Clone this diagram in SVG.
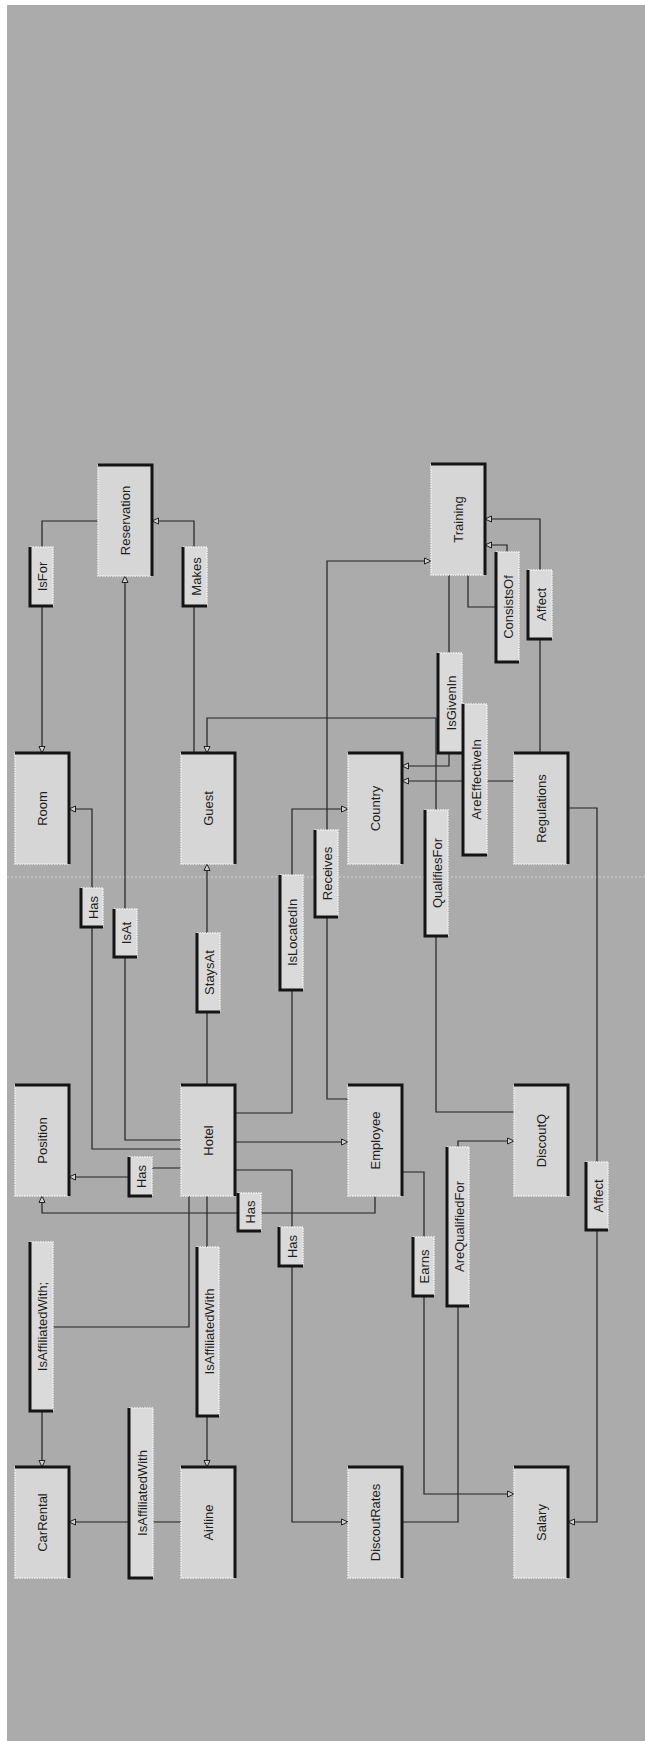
<svg xmlns="http://www.w3.org/2000/svg" width="645" height="1741" viewBox="0 0 645 1741">
<defs>
<style>
.bg{fill:#ababab}
.box{fill:#d6d6d6}
.lbl{fill:#dadada}
.edge{stroke:#141414;stroke-width:3;fill:none}
.hl{stroke:#f2f2f2;stroke-width:1.5;stroke-dasharray:1.5 1;fill:none}
.t{font-family:"Liberation Sans",Arial,sans-serif;font-size:13px;fill:#1e1e1e;text-anchor:middle;dominant-baseline:central}
.c{stroke:#222222;stroke-width:1.2;fill:none;marker-end:url(#ar)}
.fold{stroke:#c6c6c6;stroke-width:1.5;stroke-dasharray:2 2}
</style>
<marker id="ar" markerWidth="8" markerHeight="8" refX="7" refY="4" orient="auto" markerUnits="userSpaceOnUse">
<path d="M0.5,1 L7,4 L0.5,7 Z" fill="#cfcfcf" stroke="#222" stroke-width="1"/>
</marker>
</defs>
<rect x="0" y="0" width="645" height="1741" fill="#ffffff"/>
<rect class="bg" x="7" y="5" width="638" height="1736"/>
<line class="fold" x1="7" y1="877" x2="645" y2="877"/>

<g id="connectors">
<path class="c" d="M98,521 H42 V753"/>
<path class="c" d="M194,753 V521 H152"/>
<path class="c" d="M181,1140 H125 V576"/>
<path class="c" d="M181,1149 H92 V809 H69"/>
<path class="c" d="M207,1085 V864"/>
<path class="c" d="M514,1112 H436 V718 H207 V753"/>
<path class="c" d="M449,575 V766 H402"/>
<path class="c" d="M514,781 H402"/>
<path class="c" d="M348,1099 H327 V561 H431"/>
<path class="c" d="M235,1113 H292 V809 H348"/>
<path class="c" d="M468,575 V607 H507 V545 H485"/>
<path class="c" d="M540,753 V519 H485"/>
<path class="c" d="M568,808 H597 V1522 H568"/>
<path class="c" d="M235,1142 H348"/>
<path class="c" d="M181,1168 H140 V1177 H69"/>
<path class="c" d="M375,1196 V1213 H42 V1196"/>
<path class="c" d="M235,1170 H292 V1522 H348"/>
<path class="c" d="M402,1172 H424 V1494 H514"/>
<path class="c" d="M402,1522 H458 V1141 H514"/>
<path class="c" d="M189,1196 V1327 H42 V1467"/>
<path class="c" d="M207,1196 V1467"/>
<path class="c" d="M181,1522 H69"/>
</g>

<g id="labels">
<g id="l-isfor"><rect class="lbl" x="30" y="547" width="23" height="59"/><path class="hl" d="M30,547 H53 V606"/><path class="edge" d="M30,547 V606 H53"/><text class="t" transform="translate(42,576.5) rotate(-90)">IsFor</text></g>
<g id="l-makes"><rect class="lbl" x="183" y="547" width="24" height="59"/><path class="hl" d="M183,547 H207 V606"/><path class="edge" d="M183,547 V606 H207"/><text class="t" transform="translate(196,576.5) rotate(-90)">Makes</text></g>
<g id="l-consistsof"><rect class="lbl" x="496" y="552" width="23" height="110"/><path class="hl" d="M496,552 H519 V662"/><path class="edge" d="M496,552 V662 H519"/><text class="t" transform="translate(508,607) rotate(-90)">ConsistsOf</text></g>
<g id="l-affect1"><rect class="lbl" x="528" y="570" width="24" height="69"/><path class="hl" d="M528,570 H552 V639"/><path class="edge" d="M528,570 V639 H552"/><text class="t" transform="translate(541,604.5) rotate(-90)">Affect</text></g>
<g id="l-isgivenin"><rect class="lbl" x="438" y="653" width="24" height="100"/><path class="hl" d="M438,653 H462 V753"/><path class="edge" d="M438,653 V753 H462"/><text class="t" transform="translate(451,703) rotate(-90)">IsGivenIn</text></g>
<g id="l-areeffectivein"><rect class="lbl" x="463" y="704" width="24" height="151"/><path class="hl" d="M463,704 H487 V855"/><path class="edge" d="M463,704 V855 H487"/><text class="t" transform="translate(476,779.5) rotate(-90)">AreEffectiveIn</text></g>
<g id="l-qualifiesfor"><rect class="lbl" x="425" y="810" width="23" height="126"/><path class="hl" d="M425,810 H448 V936"/><path class="edge" d="M425,810 V936 H448"/><text class="t" transform="translate(437,873) rotate(-90)">QualifiesFor</text></g>
<g id="l-receives"><rect class="lbl" x="315" y="830" width="23" height="87"/><path class="hl" d="M315,830 H338 V917"/><path class="edge" d="M315,830 V917 H338"/><text class="t" transform="translate(327,873.5) rotate(-90)">Receives</text></g>
<g id="l-has1"><rect class="lbl" x="81" y="888" width="22" height="39"/><path class="hl" d="M81,888 H103 V927"/><path class="edge" d="M81,888 V927 H103"/><text class="t" transform="translate(93,907.5) rotate(-90)">Has</text></g>
<g id="l-isat"><rect class="lbl" x="114" y="909" width="23" height="48"/><path class="hl" d="M114,909 H137 V957"/><path class="edge" d="M114,909 V957 H137"/><text class="t" transform="translate(126,933) rotate(-90)">IsAt</text></g>
<g id="l-staysat"><rect class="lbl" x="197" y="933" width="23" height="79"/><path class="hl" d="M197,933 H220 V1012"/><path class="edge" d="M197,933 V1012 H220"/><text class="t" transform="translate(209,972.5) rotate(-90)">StaysAt</text></g>
<g id="l-islocatedin"><rect class="lbl" x="280" y="875" width="23" height="115"/><path class="hl" d="M280,875 H303 V990"/><path class="edge" d="M280,875 V990 H303"/><text class="t" transform="translate(292,932.5) rotate(-90)">IsLocatedIn</text></g>
<g id="l-has2"><rect class="lbl" x="129" y="1157" width="23" height="39"/><path class="hl" d="M129,1157 H152 V1196"/><path class="edge" d="M129,1157 V1196 H152"/><text class="t" transform="translate(141,1176.5) rotate(-90)">Has</text></g>
<g id="l-has3"><rect class="lbl" x="238" y="1193" width="23" height="38"/><path class="hl" d="M238,1193 H261 V1231"/><path class="edge" d="M238,1193 V1231 H261"/><text class="t" transform="translate(250,1212) rotate(-90)">Has</text></g>
<g id="l-has4"><rect class="lbl" x="279" y="1227" width="24" height="39"/><path class="hl" d="M279,1227 H303 V1266"/><path class="edge" d="M279,1227 V1266 H303"/><text class="t" transform="translate(292,1246.5) rotate(-90)">Has</text></g>
<g id="l-earns"><rect class="lbl" x="413" y="1237" width="21" height="59"/><path class="hl" d="M413,1237 H434 V1296"/><path class="edge" d="M413,1237 V1296 H434"/><text class="t" transform="translate(424,1266.5) rotate(-90)">Earns</text></g>
<g id="l-arequalifiedfor"><rect class="lbl" x="447" y="1147" width="22" height="159"/><path class="hl" d="M447,1147 H469 V1306"/><path class="edge" d="M447,1147 V1306 H469"/><text class="t" transform="translate(459,1226.5) rotate(-90)">AreQualifiedFor</text></g>
<g id="l-affect2"><rect class="lbl" x="586" y="1162" width="22" height="68"/><path class="hl" d="M586,1162 H608 V1230"/><path class="edge" d="M586,1162 V1230 H608"/><text class="t" transform="translate(598,1196) rotate(-90)">Affect</text></g>
<g id="l-isaffiliatedwith1"><rect class="lbl" x="30" y="1242" width="23" height="169"/><path class="hl" d="M30,1242 H53 V1411"/><path class="edge" d="M30,1242 V1411 H53"/><text class="t" transform="translate(42,1326.5) rotate(-90)">IsAffiliatedWith;</text></g>
<g id="l-isaffiliatedwith2"><rect class="lbl" x="197" y="1247" width="22" height="169"/><path class="hl" d="M197,1247 H219 V1416"/><path class="edge" d="M197,1247 V1416 H219"/><text class="t" transform="translate(209,1331.5) rotate(-90)">IsAffiliatedWith</text></g>
<g id="l-isaffiliatedwith3"><rect class="lbl" x="129" y="1408" width="24" height="170"/><path class="hl" d="M129,1408 H153 V1578"/><path class="edge" d="M129,1408 V1578 H153"/><text class="t" transform="translate(142,1493) rotate(-90)">IsAffiliatedWith</text></g>
</g>

<g id="nodes">
<g id="n-reservation"><rect class="box" x="98" y="465" width="54" height="111"/><path class="hl" d="M98,465 V576 H152"/><path class="edge" d="M98,465 H152 V576"/><text class="t" transform="translate(125,520.5) rotate(-90)">Reservation</text></g>
<g id="n-training"><rect class="box" x="431" y="464" width="54" height="111"/><path class="hl" d="M431,464 V575 H485"/><path class="edge" d="M431,464 H485 V575"/><text class="t" transform="translate(458,519.5) rotate(-90)">Training</text></g>
<g id="n-room"><rect class="box" x="15" y="753" width="54" height="111"/><path class="hl" d="M15,753 V864 H69"/><path class="edge" d="M15,753 H69 V864"/><text class="t" transform="translate(42,808.5) rotate(-90)">Room</text></g>
<g id="n-guest"><rect class="box" x="181" y="753" width="54" height="111"/><path class="hl" d="M181,753 V864 H235"/><path class="edge" d="M181,753 H235 V864"/><text class="t" transform="translate(208,808.5) rotate(-90)">Guest</text></g>
<g id="n-country"><rect class="box" x="348" y="753" width="54" height="111"/><path class="hl" d="M348,753 V864 H402"/><path class="edge" d="M348,753 H402 V864"/><text class="t" transform="translate(375,808.5) rotate(-90)">Country</text></g>
<g id="n-regulations"><rect class="box" x="514" y="753" width="54" height="111"/><path class="hl" d="M514,753 V864 H568"/><path class="edge" d="M514,753 H568 V864"/><text class="t" transform="translate(541,808.5) rotate(-90)">Regulations</text></g>
<g id="n-position"><rect class="box" x="15" y="1085" width="54" height="111"/><path class="hl" d="M15,1085 V1196 H69"/><path class="edge" d="M15,1085 H69 V1196"/><text class="t" transform="translate(42,1140.5) rotate(-90)">Position</text></g>
<g id="n-hotel"><rect class="box" x="181" y="1085" width="54" height="111"/><path class="hl" d="M181,1085 V1196 H235"/><path class="edge" d="M181,1085 H235 V1196"/><text class="t" transform="translate(208,1140.5) rotate(-90)">Hotel</text></g>
<g id="n-employee"><rect class="box" x="348" y="1085" width="54" height="111"/><path class="hl" d="M348,1085 V1196 H402"/><path class="edge" d="M348,1085 H402 V1196"/><text class="t" transform="translate(375,1140.5) rotate(-90)">Employee</text></g>
<g id="n-discoutq"><rect class="box" x="514" y="1085" width="54" height="111"/><path class="hl" d="M514,1085 V1196 H568"/><path class="edge" d="M514,1085 H568 V1196"/><text class="t" transform="translate(541,1140.5) rotate(-90)">DiscoutQ</text></g>
<g id="n-carrental"><rect class="box" x="15" y="1467" width="54" height="111"/><path class="hl" d="M15,1467 V1578 H69"/><path class="edge" d="M15,1467 H69 V1578"/><text class="t" transform="translate(42,1522.5) rotate(-90)">CarRental</text></g>
<g id="n-airline"><rect class="box" x="181" y="1467" width="54" height="111"/><path class="hl" d="M181,1467 V1578 H235"/><path class="edge" d="M181,1467 H235 V1578"/><text class="t" transform="translate(208,1522.5) rotate(-90)">Airline</text></g>
<g id="n-discoutrates"><rect class="box" x="348" y="1467" width="54" height="111"/><path class="hl" d="M348,1467 V1578 H402"/><path class="edge" d="M348,1467 H402 V1578"/><text class="t" transform="translate(375,1522.5) rotate(-90)">DiscoutRates</text></g>
<g id="n-salary"><rect class="box" x="514" y="1467" width="54" height="111"/><path class="hl" d="M514,1467 V1578 H568"/><path class="edge" d="M514,1467 H568 V1578"/><text class="t" transform="translate(541,1522.5) rotate(-90)">Salary</text></g>
</g>
</svg>
